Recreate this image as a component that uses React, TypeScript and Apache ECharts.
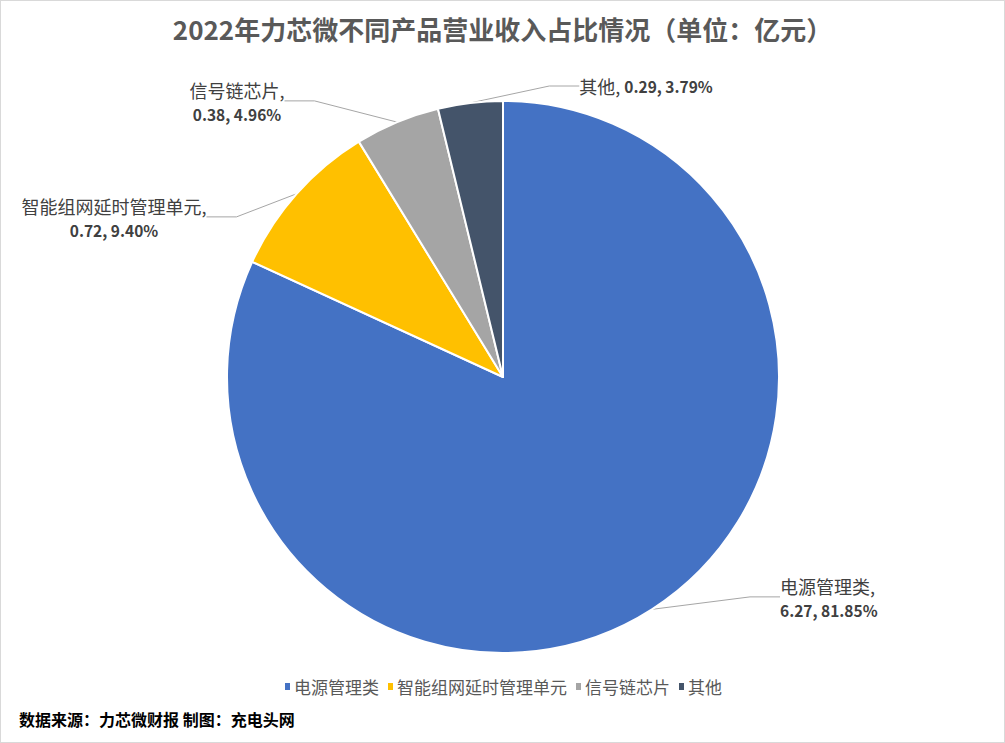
import { useEffect, useRef } from 'react';
import * as echarts from 'echarts';

const categories = ['电源管理类', '智能组网延时管理单元', '信号链芯片', '其他'];
const revenues = [6.27, 0.72, 0.38, 0.29];
const colors = ['#4472C4', '#FFC000', '#A5A5A5', '#44546A'];

const titleText = '2022年力芯微不同产品营业收入占比情况（单位：亿元）';
const sourceText = '数据来源：力芯微财报 制图：充电头网';

// where Excel put each data label (centre of the text block)
const labelSpots: { x: number; y: number; align: string }[] = [
  { x: 779, y: 596, align: 'left' },
  { x: 113, y: 216, align: 'center' },
  { x: 236, y: 100, align: 'center' },
  { x: 645, y: 85, align: 'center' },
];

const FONT = '"Noto Sans CJK SC", "Noto Sans", sans-serif';

export default function App() {
  const chartRef = useRef<HTMLDivElement>(null);

  useEffect(() => {
    document.body.style.margin = '0';
    if (!chartRef.current) return;
    const chart = echarts.init(chartRef.current, null, { renderer: 'svg' });

    const total = revenues.reduce((a, b) => a + b, 0);

    chart.setOption({
      animation: false,
      backgroundColor: '#ffffff',
      textStyle: { fontFamily: FONT },
      title: {
        text: titleText,
        left: 'center',
        top: 9,
        textStyle: { fontSize: 26, fontWeight: 'bold', color: '#595959', fontFamily: FONT },
      },
      legend: {
        data: categories,
        bottom: 42,
        left: 'center',
        icon: 'rect',
        itemWidth: 7,
        itemHeight: 9,
        itemGap: 7,
        textStyle: { fontSize: 17, color: '#595959', padding: [0, 0, 0, -2] },
      },
      graphic: [
        {
          type: 'text',
          left: 18,
          top: 710,
          style: { text: sourceText, fill: '#000000', font: `bold 16px ${FONT}` },
        },
      ],
      series: [
        {
          type: 'pie',
          center: [502, 376],
          radius: [0, 276],
          startAngle: 90,
          clockwise: true,
          itemStyle: { borderColor: '#ffffff', borderWidth: 2 },
          data: categories.map((name, i) => ({
            name,
            value: revenues[i],
            itemStyle: { color: colors[i] },
          })),
          label: {
            show: true,
            position: 'outside',
            formatter: (p: any) => {
              const pct = ((p.value / total) * 100).toFixed(2) + '%';
              const vals = `${p.value.toFixed(2)}, ${pct}`;
              if (p.dataIndex === 3) return `{n|${p.name}, }{v|${vals}}`;
              return `{n|${p.name},}\n{v|${vals}}`;
            },
            rich: {
              n: { fontSize: 18, color: '#404040', lineHeight: 25, fontFamily: FONT },
              v: { fontSize: 15.5, color: '#404040', fontWeight: 'bold', lineHeight: 23, fontFamily: FONT },
            },
          },
          labelLine: {
            show: true,
            length: 20,
            length2: 30,
            lineStyle: { color: '#a6a6a6', width: 1 },
          },
          labelLayout: (params: any) => {
            const s = labelSpots[params.dataIndex];
            return {
              x: s.x,
              y: s.y,
              align: s.align,
              verticalAlign: 'middle',
            };
          },
        },
      ],
    });

    return () => {
      chart.dispose();
    };
  }, []);

  return (
    <div
      ref={chartRef}
      style={{ width: 1005, height: 743, boxSizing: 'border-box', border: '1px solid #d9d9d9' }}
    />
  );
}
